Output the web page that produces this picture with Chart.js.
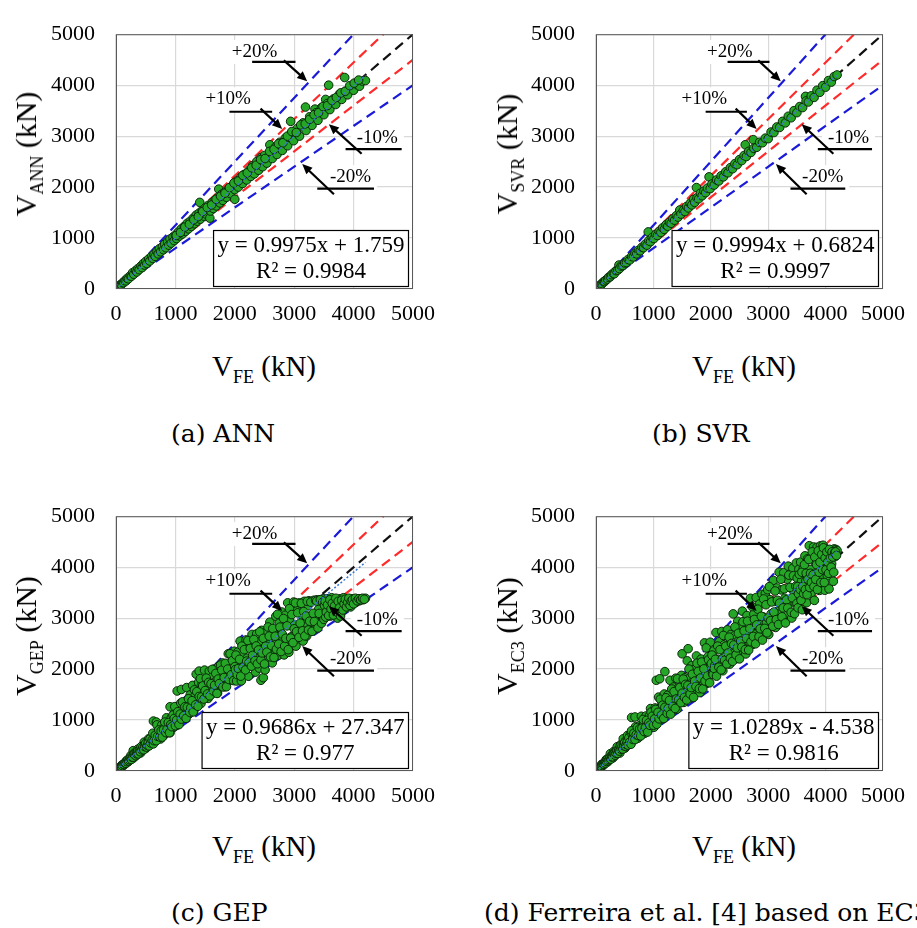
<!DOCTYPE html>
<html>
<head>
<meta charset="utf-8">
<script src="https://cdn.jsdelivr.net/npm/chart.js@4.4.1/dist/chart.umd.min.js"></script>
<style>
  body { margin:0; width:917px; height:928px; overflow:hidden; background:#fff; position:relative; font-family:"Liberation Serif", serif; color:#000; }
  canvas { position:absolute; }
  .yt, .xt, .cap { position:absolute; white-space:nowrap; line-height:1; }
  .yt { font-size:30px; transform:translate(-50%,-50%) rotate(-90deg); }
  .xt { font-size:29px; transform:translate(-50%,-50%); }
  .sub { font-size:18px; position:relative; top:7px; }
  .cap { font-family:"DejaVu Serif", serif; font-size:25px; transform:translateY(-50%); }
</style>
</head>
<body>
<canvas id="cA" width="480" height="330" style="left:0;top:0"></canvas>
<canvas id="cB" width="437" height="330" style="left:480px;top:0"></canvas>
<canvas id="cC" width="480" height="330" style="left:0;top:482px"></canvas>
<canvas id="cD" width="437" height="330" style="left:480px;top:482px"></canvas>

<div class="yt" style="left:26px;top:154px">V<span class="sub">ANN</span> (kN)</div>
<div class="yt" style="left:507px;top:154px">V<span class="sub">SVR</span> (kN)</div>
<div class="yt" style="left:26px;top:636px">V<span class="sub">GEP</span> (kN)</div>
<div class="yt" style="left:507px;top:636px">V<span class="sub">EC3</span> (kN)</div>

<div class="xt" style="left:264px;top:366px">V<span class="sub">FE</span> (kN)</div>
<div class="xt" style="left:744px;top:366px">V<span class="sub">FE</span> (kN)</div>
<div class="xt" style="left:264px;top:846px">V<span class="sub">FE</span> (kN)</div>
<div class="xt" style="left:744px;top:846px">V<span class="sub">FE</span> (kN)</div>

<div class="cap" style="left:171px;top:433px">(a) ANN</div>
<div class="cap" style="left:652px;top:433px">(b) SVR</div>
<div class="cap" style="left:171px;top:912px">(c) GEP</div>
<div class="cap" style="left:484px;top:912px">(d) Ferreira et al. [4] based on EC3</div>

<script>
const axisTicks = [0, 1000, 2000, 3000, 4000, 5000];

// reference lines (kN)
const lineEqual = [[0, 0], [5000, 5000]];
const linePlus10 = [[0, 0], [4500, 5000]];
const lineMinus10 = [[0, 0], [5000, 4500]];
const linePlus20 = [[0, 0], [4000, 5000]];
const lineMinus20 = [[0, 0], [5000, 4000]];

// linear trend lines
const annTrend = [[50, 51.6], [4200, 4191]];
const svrTrend = [[50, 50.6], [4200, 4198]];
const gepTrend = [[50, 75.8], [4200, 4095]];
const ec3Trend = [[50, 46.9], [4200, 4317]];

const annEq = ['y = 0.9975x + 1.759', 'R\u00b2 = 0.9984'];
const svrEq = ['y = 0.9994x + 0.6824', 'R\u00b2 = 0.9997'];
const gepEq = ['y = 0.9686x + 27.347', 'R\u00b2 = 0.977'];
const ec3Eq = ['y = 1.0289x - 4.538', 'R\u00b2 = 0.9816'];

// [V_FE, V_pred]
const annPts = [
[30,35],[50,45],[70,80],[90,85],[110,120],[130,125],[150,165],[170,160],[190,210],[210,200],[240,260],[260,250],[280,320],[300,290],[330,360],[350,335],[370,400],[390,380],[420,450],[440,420],[460,500],[480,470],[500,540],[520,500],[550,590],[570,550],[600,640],[620,600],[640,680],[660,640],[690,740],[710,690],[730,790],[750,730],[780,830],[800,770],[820,880],[840,810],[870,930],[890,860],[910,980],[930,900],[960,1020],[980,950],[1000,1060],[1020,990],[1050,1120],[1070,1040],[1100,1180],[1120,1080],[1150,1230],[1170,1130],[1200,1290],[1220,1180],[1250,1330],[1270,1230],[1300,1390],[1320,1280],[1350,1450],[1370,1330],[1400,1490],[1410,1700],[1420,1370],[1450,1540],[1480,1430],[1500,1590],[1520,1470],[1550,1640],[1580,1390],[1590,1530],[1620,1700],[1640,1580],[1670,1750],[1690,1630],[1720,1800],[1730,1960],[1750,1690],[1780,1860],[1800,1740],[1830,1900],[1860,1800],[1900,1970],[1930,1870],[1960,2030],[2000,1760],[2000,1950],[2030,2120],[2060,2000],[2100,2190],[2130,2070],[2160,2250],[2200,2140],[2240,2330],[2270,2210],[2300,2420],[2330,2260],[2370,2500],[2400,2330],[2440,2580],[2470,2400],[2500,2620],[2540,2470],[2590,2830],[2600,2700],[2630,2560],[2680,2780],[2710,2640],[2760,2880],[2800,2720],[2850,2960],[2890,2810],[2940,3290],[2950,3050],[2990,2910],[3050,3150],[3090,3000],[3150,3260],[3190,3570],[3200,3110],[3260,3380],[3300,3210],[3350,3530],[3370,3460],[3400,3310],[3460,3560],[3500,3420],[3530,3720],[3560,3640],[3580,4000],[3600,3520],[3660,3730],[3700,3620],[3760,3820],[3800,3720],[3850,4150],[3860,3880],[3900,3810],[3960,3960],[4000,3900],[4060,4010],[4100,3980],[4150,4080],[4200,4090],
[1015,1050],[1085,1110],[1160,1215],[1235,1270],[1310,1360],[1385,1420],[1460,1520],[1535,1600],[1610,1650],[1685,1760],[1760,1820],[1835,1880],[1910,1990],[1985,2080],[2060,2120],[2135,2230],[2210,2280],[2285,2380],[2360,2430],[2435,2540],[2510,2560],[2585,2700],[2660,2740],[2735,2850],[2810,2870],[2885,3000],[2960,3090],[3035,3070],[3110,3220],[3185,3240],[3260,3330],[3335,3420],[3410,3460],[3485,3580],[3560,3600],[3635,3700],[3710,3760],[3785,3850],[3860,3880],[3935,3990],[4010,4040],[4085,4100]
];

const svrPts = [
[30,30],[50,55],[70,65],[90,95],[110,105],[130,140],[150,145],[170,175],[200,195],[220,230],[250,240],[270,280],[300,310],[320,300],[350,360],[380,370],[400,470],[410,400],[440,450],[470,460],[500,510],[530,520],[560,580],[590,570],[620,640],[650,630],[680,700],[710,690],[740,760],[770,750],[800,820],[830,810],[860,880],[890,860],[910,1120],[920,950],[950,930],[980,1010],[1010,990],[1040,1070],[1070,1050],[1100,1130],[1130,1110],[1160,1200],[1190,1170],[1220,1260],[1250,1230],[1280,1310],[1310,1290],[1340,1380],[1370,1350],[1400,1440],[1430,1410],[1460,1550],[1480,1470],[1520,1540],[1550,1520],[1580,1620],[1610,1590],[1640,1680],[1670,1650],[1700,1760],[1720,1700],[1750,1990],[1760,1790],[1790,1770],[1820,1880],[1850,1830],[1880,1920],[1910,1890],[1940,1980],[1970,2200],[1990,1970],[2020,2060],[2060,2040],[2100,2140],[2140,2120],[2180,2220],[2220,2200],[2260,2300],[2300,2280],[2340,2380],[2380,2360],[2420,2460],[2460,2440],[2500,2540],[2540,2520],[2580,2620],[2600,2830],[2620,2600],[2660,2700],[2700,2680],[2740,2930],[2750,2760],[2800,2780],[2850,2880],[2900,2870],[2950,2960],[3000,2950],[3050,3080],[3100,3070],[3150,3180],[3200,3170],[3250,3290],[3300,3260],[3350,3390],[3400,3360],[3450,3500],[3500,3460],[3550,3580],[3600,3560],[3650,3780],[3660,3690],[3700,3670],[3750,3790],[3800,3760],[3850,3900],[3900,3860],[3950,3990],[4000,3960],[4050,4090],[4100,4060],[4150,4170],[4200,4200]
];

const gepPts = [
[40,40],[55,49],[70,78],[85,80],[100,118],[115,99],[130,138],[145,140],[160,146],[175,200],[190,194],[205,180],[220,239],[235,224],[250,303],[265,245],[280,292],[290,400],[295,256],[310,350],[325,321],[340,305],[355,381],[370,430],[385,364],[400,404],[415,355],[430,473],[445,433],[460,422],[475,566],[490,505],[505,446],[520,554],[535,499],[550,632],[565,566],[580,524],[595,650],
[48,54],[63,60],[78,82],[93,84],[108,106],[123,133],[138,128],[153,157],[168,150],[183,183],[198,221],[213,196],[228,220],[243,255],[258,226],[273,269],[288,271],[303,331],[318,327],[333,301],[348,338],[363,388],[378,335],[393,397],[408,378],[423,477],[438,414],[453,471],[468,418],[483,480],[498,537],[513,470],[528,504],[543,553],[558,493],[573,631],[588,550],
[610,606],[630,533],[630,980],[650,712],[670,618],[680,960],[690,905],[710,635],[730,748],[750,629],[770,899],[790,757],[810,702],[830,890],[850,1044],[870,797],[890,871],[910,751],[910,1260],[930,1042],[950,897],[970,861],[990,1263],[1010,1030],[1030,899],[1030,1570],[1050,1134],[1070,987],[1090,1334],[1100,1600],[1110,1123],[1130,1033],[1150,1320],[1170,1135],[1190,1637],[1210,1228],[1230,1119],[1250,1493],[1270,1218],[1290,1680],[1310,1169],[1330,1474],[1350,1346],[1350,1900],[1370,1289],[1390,1740],[1400,1960],[1410,1513],[1430,1324],[1450,1705],[1470,1474],[1490,1980],[1510,1472],[1530,1689],[1550,1424],[1570,1959],[1590,1650],[1610,1509],[1630,1861],[1650,2000],[1670,1647],[1690,1773],[1710,1530],[1730,2059],[1750,1775],[1770,1696],[1790,2120],[1810,1901],[1830,1652],[1850,2054],[1870,1780],[1890,2300],[1910,1952],[1930,1783],[1950,2258],[1970,1931],[1990,2350],
[620,741],[640,595],[660,702],[680,594],[700,680],[720,806],[740,667],[760,787],[780,665],[800,808],[820,960],[840,754],[860,820],[880,950],[900,752],[920,910],[940,870],[960,1097],[980,1031],[1000,887],[1020,998],[1040,1163],[1060,911],[1080,1117],[1100,1018],[1120,1357],[1140,1086],[1160,1260],[1180,1034],[1200,1252],[1220,1418],[1240,1154],[1260,1244],[1280,1380],[1300,1160],[1320,1593],[1340,1298],[1360,1556],[1380,1270],[1400,1463],[1420,1812],[1440,1454],[1460,1669],[1480,1412],[1500,1578],[1520,1822],[1540,1512],[1560,1739],[1580,1474],[1600,1712],[1620,1994],[1640,1571],[1660,1683],[1680,1915],[1700,1522],[1720,1804],[1740,1716],[1760,2080],[1780,1979],[1800,1651],[1820,1835],[1840,2112],[1860,1654],[1880,2000],[1900,1796],[1920,2300],[1940,1888],[1960,2168],[1980,1774],[2000,2046],
[2010,1990],[2030,1766],[2050,2333],[2070,1917],[2090,2548],[2110,1768],[2130,2271],[2150,2060],[2170,1940],[2190,2571],[2210,2214],[2230,1860],[2250,2435],[2270,2093],[2290,2680],[2310,2056],[2330,2395],[2350,1941],[2370,2692],[2390,2299],[2410,2020],[2430,2537],[2440,1780],[2450,2760],[2470,2208],[2480,1830],[2490,2405],[2510,1983],[2530,2732],[2550,2361],[2570,2215],[2590,2920],[2610,2545],[2630,2122],[2650,2703],[2670,2304],[2690,3034],[2710,2556],[2730,2269],[2750,2904],[2770,2479],[2790,3120],[2810,2599],[2830,2278],[2850,3058],[2870,2471],[2890,3300],[2910,2330],[2930,2933],[2950,2634],[2970,2462],[2990,3316],[3010,2866],[3030,2450],[3050,3148],[3070,2677],[3090,3300],[3110,2612],[3130,3061],[3150,2550],[3170,3330],[3190,2909],[3210,2650],[3230,3243],[3250,3340],[3270,2793],[3290,3047],[3310,2750],[3330,3350],[3350,2968],[3370,2850],[3390,3360],[3410,3171],[3430,2900],[3450,3364],[3470,2950],[3490,3380],
[2020,2275],[2040,1893],[2060,2011],[2080,2192],[2100,1861],[2120,2451],[2140,2037],[2160,2380],[2180,1984],[2200,2156],[2220,2560],[2240,2128],[2260,2405],[2280,2057],[2300,2268],[2320,2580],[2340,2167],[2360,2454],[2380,2104],[2400,2376],[2420,2730],[2440,2181],[2460,2317],[2480,2604],[2500,2100],[2520,2449],[2540,2332],[2560,2826],[2580,2647],[2600,2239],[2620,2460],[2640,2796],[2660,2226],[2680,2645],[2700,2390],[2720,3076],[2740,2491],[2760,2823],[2780,2344],[2800,2685],[2820,2992],[2840,2451],[2860,2605],[2880,2848],[2900,2381],[2920,3186],[2940,2608],[2960,3070],[2980,2518],[3000,2790],[3020,3300],[3040,2736],[3060,3103],[3080,2624],[3100,2902],[3120,3290],[3140,2751],[3160,3128],[3180,2652],[3200,3040],[3220,3330],[3240,2767],[3260,2940],[3280,3313],[3300,2740],[3320,3094],[3340,2933],[3360,3350],[3380,3333],[3400,2808],[3420,3092],[3440,3360],[3460,2900],[3480,3313],[3500,2975],
[3510,3250],[3530,3020],[3550,3380],[3570,3150],[3590,3310],[3610,3040],[3630,3400],[3650,3210],[3670,3080],[3690,3350],[3710,3160],[3730,3000],[3750,3290],[3770,3380],[3790,3120],[3810,3240],[3830,3400],[3850,3180],[3870,3330],[3890,3260],[3910,3360],[3930,3290],[3950,3220],[3970,3380],[3990,3300],[4010,3350],[4040,3310],[4070,3370],[4100,3340],[4130,3380],[4160,3360],[4200,3390],
[3520,3330],[3540,3120],[3560,3260],[3580,3050],[3600,3360],[3620,3180],[3640,3290],[3660,3060],[3680,3240],[3700,3390],[3720,3120],[3740,3330],[3760,3200],[3780,3040],[3800,3350],[3820,3160],[3840,3280],[3860,3370],[3880,3220],[3900,3310],[3920,3390],[3940,3250],[3960,3330],[3980,3360],[4000,3280],[4030,3390],[4060,3340],[4090,3380],[4120,3360],[4150,3390],[4180,3370]
];

const ec3Pts = [
[40,42],[55,50],[70,85],[85,82],[100,131],[115,99],[130,148],[145,146],[160,149],[175,220],[190,207],[205,180],[220,260],[235,233],[250,340],[265,252],[280,314],[295,257],[310,384],[325,338],[340,309],[355,412],[370,477],[385,377],[400,428],[415,353],[430,516],[445,454],[460,432],[475,632],[490,539],[505,449],[520,598],[535,514],[550,699],[565,599],[580,534],[595,708],
[48,56],[63,62],[78,84],[93,87],[108,109],[123,137],[138,132],[153,161],[168,155],[183,188],[198,227],[213,202],[228,226],[243,262],[258,233],[273,277],[288,279],[303,341],[318,337],[333,311],[348,348],[363,399],[378,346],[393,409],[408,390],[423,491],[438,427],[453,485],[468,431],[483,495],[498,553],[513,485],[528,520],[543,570],[558,508],[573,650],[588,567],
[610,525],[620,1050],[630,718],[650,657],[670,623],[680,1060],[690,869],[710,774],[730,642],[750,885],[770,762],[790,1074],[810,770],[830,930],[850,740],[870,1079],[890,926],[910,828],[930,1079],[950,1226],[970,951],[990,1059],[1010,859],[1030,1236],[1050,1071],[1050,1780],[1070,1006],[1090,1450],[1110,1221],[1110,1810],[1130,1006],[1150,1323],[1170,1123],[1190,1511],[1200,1950],[1210,1283],[1230,1132],[1250,1488],[1270,1270],[1290,1780],[1310,1376],[1330,1197],[1350,1647],[1370,1329],[1390,1821],[1410,1213],[1430,1630],[1450,1465],[1470,1367],[1490,1877],[1500,2300],[1510,1646],[1530,1346],[1550,1829],[1570,1554],[1590,2162],[1605,2400],[1610,1530],[1630,1826],[1650,1436],[1670,2071],[1690,1758],[1710,1556],[1730,2007],[1750,2258],[1770,1735],[1790,1915],[1810,1539],[1830,2196],[1850,1887],[1870,1758],[1890,2514],[1910,2101],[1930,1718],[1950,2243],[1970,1891],[1990,2527],
[620,790],[640,621],[660,741],[680,616],[700,713],[720,854],[740,694],[760,828],[780,688],[800,840],[820,1012],[840,774],[860,848],[880,994],[900,765],[920,944],[940,897],[960,1154],[980,1076],[1000,898],[1020,1022],[1040,1208],[1060,918],[1080,1151],[1100,1023],[1120,1409],[1140,1097],[1160,1292],[1180,1031],[1200,1250],[1220,1437],[1240,1133],[1260,1232],[1280,1385],[1300,1115],[1320,1608],[1340,1268],[1360,1559],[1380,1228],[1400,1414],[1420,1809],[1440,1397],[1460,1638],[1480,1341],[1500,1527],[1520,1803],[1540,1445],[1560,1700],[1580,1394],[1600,1680],[1620,1999],[1640,1512],[1660,1637],[1680,1898],[1700,1445],[1720,1765],[1740,1660],[1760,2116],[1780,1954],[1800,1616],[1820,1824],[1840,2138],[1860,1611],[1880,2004],[1900,1767],[1920,2415],[1940,1866],[1960,2183],[1980,1731],[2000,2084],
[2010,2110],[2030,1908],[2050,2358],[2070,2070],[2090,2717],[2110,2194],[2130,1960],[2150,2537],[2170,2127],[2190,2738],[2210,1967],[2230,2475],[2250,2273],[2270,2134],[2290,2771],[2310,2472],[2330,2097],[2350,2679],[2370,2346],[2390,3083],[2410,2314],[2430,2673],[2450,2205],[2470,2939],[2490,2565],[2510,2334],[2530,2859],[2550,3137],[2570,2519],[2590,2745],[2610,2297],[2630,3051],[2650,2703],[2670,2537],[2690,3389],[2710,2927],[2730,2484],[2750,3080],[2770,2687],[2790,3404],[2810,2951],[2830,2660],[2850,3278],[2870,2870],[2890,3468],[2910,3026],[2930,2696],[2950,3481],[2970,2911],[2990,3558],[3010,2679],[3030,3363],[3050,3081],[3070,2886],[3090,3739],[3110,3328],[3130,2817],[3150,3591],[3170,3138],[3190,3900],[3210,3082],[3230,3553],[3250,2925],[3270,3891],[3290,3389],[3310,3078],[3330,3763],[3350,4020],[3370,3303],[3390,3593],[3410,3001],[3430,3979],[3450,3519],[3470,3297],[3490,4083],
[2020,2275],[2040,1893],[2060,2011],[2080,2192],[2100,1861],[2120,2451],[2140,2037],[2160,2380],[2180,1984],[2200,2200],[2220,2660],[2240,2173],[2260,2450],[2280,2102],[2300,2314],[2320,2626],[2340,2214],[2360,2502],[2380,2152],[2400,2472],[2420,2827],[2440,2279],[2460,2416],[2480,2703],[2500,2200],[2520,2550],[2540,2433],[2560,2929],[2580,2750],[2600,2382],[2620,2604],[2640,2941],[2660,2373],[2680,2793],[2700,2538],[2720,3226],[2740,2641],[2760,2975],[2780,2496],[2800,2867],[2820,3175],[2840,2636],[2860,2791],[2880,3036],[2900,2569],[2920,3376],[2940,2799],[2960,3262],[2980,2712],[3000,3000],[3020,3618],[3040,2949],[3060,3317],[3080,2840],[3100,3119],[3120,3532],[3140,2970],[3160,3350],[3180,2875],[3200,3296],[3220,3761],[3240,3026],[3260,3201],[3280,3575],[3300,2904],[3320,3360],[3340,3200],[3360,3844],[3380,3603],[3400,3114],[3420,3399],[3440,3832],[3460,3086],[3480,3626],[3500,3290],
[3505,3785],[3520,3203],[3535,3959],[3550,3444],[3565,4100],[3580,3723],[3595,3164],[3610,3971],[3625,3444],[3640,4222],[3655,3728],[3670,3303],[3685,4164],[3700,3663],[3715,4421],[3730,3954],[3745,3483],[3760,4211],[3775,3662],[3790,4396],[3805,3348],[3820,4087],[3835,3873],[3850,4389],[3865,3672],[3880,4268],[3895,3544],[3910,4418],[3925,4043],[3940,3782],[3955,4430],[3970,4208],[3985,3547],[4000,4360],[4015,4055],[4030,3829],[4045,4328],[4060,3573],[4075,4238],[4090,4335],[4105,4064],[4120,4244],[4135,3722],[4150,4358],[4165,4207],[4180,4347],[4200,4326],
[3512,3620],[3527,3480],[3542,3860],[3557,3560],[3572,3350],[3587,3900],[3602,3620],[3617,3480],[3632,4050],[3647,3560],[3662,3880],[3677,3460],[3692,3760],[3707,4150],[3722,3600],[3737,3880],[3752,3700],[3767,4300],[3782,3850],[3797,3620],[3812,4200],[3827,3760],[3842,4050],[3857,3560],[3872,4320],[3887,3900],[3902,4100],[3917,3700],[3932,4250],[3947,3950],[3962,4380],[3977,3700],[3992,4180],[4007,3950],[4022,4300],[4037,4100],[4052,3880],[4067,4350],[4082,4180],[4097,4000],[4112,4300],[4127,4200],[4142,3900],[4157,4280],[4172,4300],[4190,4230]
];

// annotation labels with underline and arrow, in axis units
const notes = [
  { text: '+20%', tx: 2331, ty: 4652, ux1: 2292, ux2: 3022, uy: 4456, ax1: 2826, ay1: 4487, ax2: 3219, ay2: 4077 },
  { text: '+10%', tx: 1888, ty: 3722, ux1: 1910, ux2: 2629, uy: 3478, ax1: 2433, ay1: 3539, ax2: 2798, ay2: 3142 },
  { text: '-10%', tx: 4399, ty: 2971, ux1: 3865, ux2: 4809, uy: 2745, ax1: 4135, ay1: 2653, ax2: 3584, ay2: 3233 },
  { text: '-20%', tx: 3949, ty: 2194, ux1: 3388, ux2: 4343, uy: 1968, ax1: 3669, ay1: 1858, ax2: 3135, ay2: 2451 }
];

const SERIF = '"Liberation Serif", "Times New Roman", serif';
const toXY = arr => arr.map(p => ({ x: p[0], y: p[1] }));

function arrow(ctx, x1, y1, x2, y2) {
  const a = Math.atan2(y2 - y1, x2 - x1), L = 10, W = 4.5;
  ctx.beginPath();
  ctx.moveTo(x1, y1);
  ctx.lineTo(x2 - L * 0.7 * Math.cos(a), y2 - L * 0.7 * Math.sin(a));
  ctx.stroke();
  ctx.beginPath();
  ctx.moveTo(x2, y2);
  ctx.lineTo(x2 - L * Math.cos(a) + W * Math.sin(a), y2 - L * Math.sin(a) - W * Math.cos(a));
  ctx.lineTo(x2 - L * Math.cos(a) - W * Math.sin(a), y2 - L * Math.sin(a) + W * Math.cos(a));
  ctx.closePath();
  ctx.fill();
}

const overlay = {
  id: 'overlay',
  beforeDatasetsDraw(chart) {
    const { ctx, scales: { x, y } } = chart;
    ctx.save();
    ctx.font = '19px ' + SERIF;
    ctx.fillStyle = '#fff';
    notes.forEach(n => {
      const w = ctx.measureText(n.text).width + 12;
      ctx.fillRect(x.getPixelForValue(n.tx) - w / 2, y.getPixelForValue(n.ty) - 12, w, 24);
    });
    ctx.restore();
  },
  afterDatasetsDraw(chart, args, opts) {
    const { ctx, chartArea: a, scales: { x, y } } = chart;
    ctx.save();
    ctx.strokeStyle = '#595959';
    ctx.lineWidth = 1;
    ctx.strokeRect(a.left + 0.5, a.top + 0.5, a.width - 1, a.height - 1);

    ctx.fillStyle = '#000';
    ctx.strokeStyle = '#000';
    ctx.font = '19px ' + SERIF;
    ctx.textAlign = 'center';
    ctx.textBaseline = 'middle';
    notes.forEach(n => {
      ctx.fillText(n.text, x.getPixelForValue(n.tx), y.getPixelForValue(n.ty));
      ctx.lineWidth = 2.2;
      ctx.beginPath();
      ctx.moveTo(x.getPixelForValue(n.ux1), y.getPixelForValue(n.uy));
      ctx.lineTo(x.getPixelForValue(n.ux2), y.getPixelForValue(n.uy));
      ctx.stroke();
      arrow(ctx, x.getPixelForValue(n.ax1), y.getPixelForValue(n.ay1), x.getPixelForValue(n.ax2), y.getPixelForValue(n.ay2));
    });

    // equation box
    const eq = opts.eq;
    ctx.font = '23px ' + SERIF;
    const w = Math.max(ctx.measureText(eq[0]).width, ctx.measureText(eq[1]).width) + 8;
    const h = 56;
    const bx = a.right - 5 - w, by = a.bottom - 3 - h;
    ctx.fillStyle = '#fff';
    ctx.fillRect(bx, by, w, h);
    ctx.lineWidth = 1.2;
    ctx.strokeRect(bx + 0.5, by + 0.5, w, h);
    ctx.fillStyle = '#000';
    ctx.fillText(eq[0], bx + w / 2 + 0.5, by + 16);
    ctx.fillText(eq[1], bx + w / 2 + 0.5, by + 42);
    ctx.restore();
  }
};

function refLine(data, color) {
  return { data: toXY(data), showLine: true, borderColor: color, borderWidth: 2.2,
           borderDash: [10, 6], pointRadius: 0, order: 3 };
}

function makePanel(id, pts, trend, eq) {
  const canvas = document.getElementById(id);
  const W = canvas.width;
  new Chart(canvas, {
    type: 'scatter',
    data: {
      datasets: [
        { data: toXY(trend), showLine: true, borderColor: '#3a78d8', borderWidth: 1.5,
          borderDash: [2, 2], pointRadius: 0, order: 0 },
        { data: toXY(pts), pointRadius: 4.3, backgroundColor: '#26a626',
          borderColor: '#0a280a', borderWidth: 1, order: 1 },
        refLine(lineEqual, '#111111'),
        refLine(linePlus10, '#ff2a2a'),
        refLine(lineMinus10, '#ff2a2a'),
        refLine(linePlus20, '#1a1ad8'),
        refLine(lineMinus20, '#1a1ad8')
      ]
    },
    options: {
      responsive: false,
      animation: false,
      events: [],
      layout: { padding: { left: 0, top: 16, right: W - 413, bottom: 0 } },
      plugins: { legend: { display: false }, tooltip: { enabled: false }, overlay: { eq } },
      scales: {
        x: {
          type: 'linear', min: 0, max: 5000,
          afterFit: s => { s.height = 41; },
          afterBuildTicks: s => { s.ticks = axisTicks.map(v => ({ value: v })); },
          ticks: { padding: 12, color: '#000', font: { family: SERIF, size: 22 }, autoSkip: false, maxRotation: 0, callback: v => String(v) },
          grid: { color: '#d9d9d9', lineWidth: 1.2, drawTicks: false },
          border: { display: false }
        },
        y: {
          type: 'linear', min: 0, max: 5000,
          afterFit: s => { s.width = 116; },
          afterBuildTicks: s => { s.ticks = axisTicks.map(v => ({ value: v })); },
          ticks: { padding: 21, color: '#000', font: { family: SERIF, size: 22 }, autoSkip: false, callback: v => String(v) },
          grid: { color: '#d9d9d9', lineWidth: 1.2, drawTicks: false },
          border: { display: false }
        }
      }
    },
    plugins: [overlay]
  });
}

makePanel('cA', annPts, annTrend, annEq);
makePanel('cB', svrPts, svrTrend, svrEq);
makePanel('cC', gepPts, gepTrend, gepEq);
makePanel('cD', ec3Pts, ec3Trend, ec3Eq);
</script>
</body>
</html>
